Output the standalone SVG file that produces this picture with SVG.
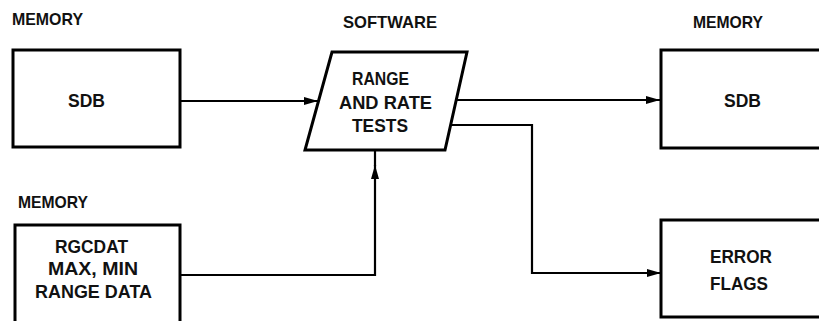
<svg xmlns="http://www.w3.org/2000/svg" width="819" height="321" viewBox="0 0 819 321">
<style>
.box{fill:#fff;stroke:#000;stroke-width:3}
.t{font-family:"Liberation Sans",Arial,sans-serif;font-weight:bold;font-size:19px;fill:#111}
.lbl{font-family:"Liberation Sans",Arial,sans-serif;font-weight:bold;font-size:17px;fill:#111}
.c{fill:none;stroke:#000;stroke-width:2.2}
</style>
<defs>
<marker id="ah" viewBox="0 0 14 8" refX="14" refY="4" markerWidth="14" markerHeight="8" markerUnits="userSpaceOnUse" orient="auto">
<path d="M0,0 L14,4 L0,8 Z" fill="#000"/>
</marker>
</defs>
<rect width="819" height="321" fill="#fff"/>
<g id="labels">
<text class="lbl" x="12" y="25" textLength="71" lengthAdjust="spacingAndGlyphs">MEMORY</text>
<text class="lbl" x="343" y="28" textLength="94" lengthAdjust="spacingAndGlyphs">SOFTWARE</text>
<text class="lbl" x="693" y="28" textLength="70" lengthAdjust="spacingAndGlyphs">MEMORY</text>
<text class="lbl" x="18" y="208" textLength="70" lengthAdjust="spacingAndGlyphs">MEMORY</text>
</g>
<g id="connectors">
<path class="c" d="M180,101 H318" marker-end="url(#ah)"/>
<path class="c" d="M456,100 H660" marker-end="url(#ah)"/>
<path class="c" d="M451,125 H532 V273 H661" marker-end="url(#ah)"/>
<path class="c" d="M180,275 H375 V165" marker-end="url(#ah)"/>
<path class="c" d="M375,166 V150"/>
</g>
<g id="sdb-in">
<rect class="box" x="13" y="50" width="167" height="97"/>
<text class="t" x="68" y="107" textLength="37" lengthAdjust="spacingAndGlyphs">SDB</text>
</g>
<g id="range-tests">
<polygon class="box" points="332,52 467,52 445,150 305,150"/>
<text class="t" x="352" y="85" textLength="57" lengthAdjust="spacingAndGlyphs">RANGE</text>
<text class="t" x="339" y="109" textLength="93" lengthAdjust="spacingAndGlyphs">AND RATE</text>
<text class="t" x="352" y="132" textLength="56" lengthAdjust="spacingAndGlyphs">TESTS</text>
</g>
<g id="sdb-out">
<rect class="box" x="661" y="50" width="170" height="98"/>
<text class="t" x="724" y="107" textLength="37" lengthAdjust="spacingAndGlyphs">SDB</text>
</g>
<g id="rgcdat">
<rect class="box" x="15" y="225" width="165" height="110"/>
<text class="t" x="55" y="253" textLength="73" lengthAdjust="spacingAndGlyphs">RGCDAT</text>
<text class="t" x="48" y="275" textLength="90" lengthAdjust="spacingAndGlyphs">MAX, MIN</text>
<text class="t" x="35" y="298" textLength="117" lengthAdjust="spacingAndGlyphs">RANGE DATA</text>
</g>
<g id="error-flags">
<rect class="box" x="661" y="220" width="170" height="97"/>
<text class="t" x="710" y="263" textLength="62" lengthAdjust="spacingAndGlyphs">ERROR</text>
<text class="t" x="710" y="290" textLength="58" lengthAdjust="spacingAndGlyphs">FLAGS</text>
</g>
</svg>
